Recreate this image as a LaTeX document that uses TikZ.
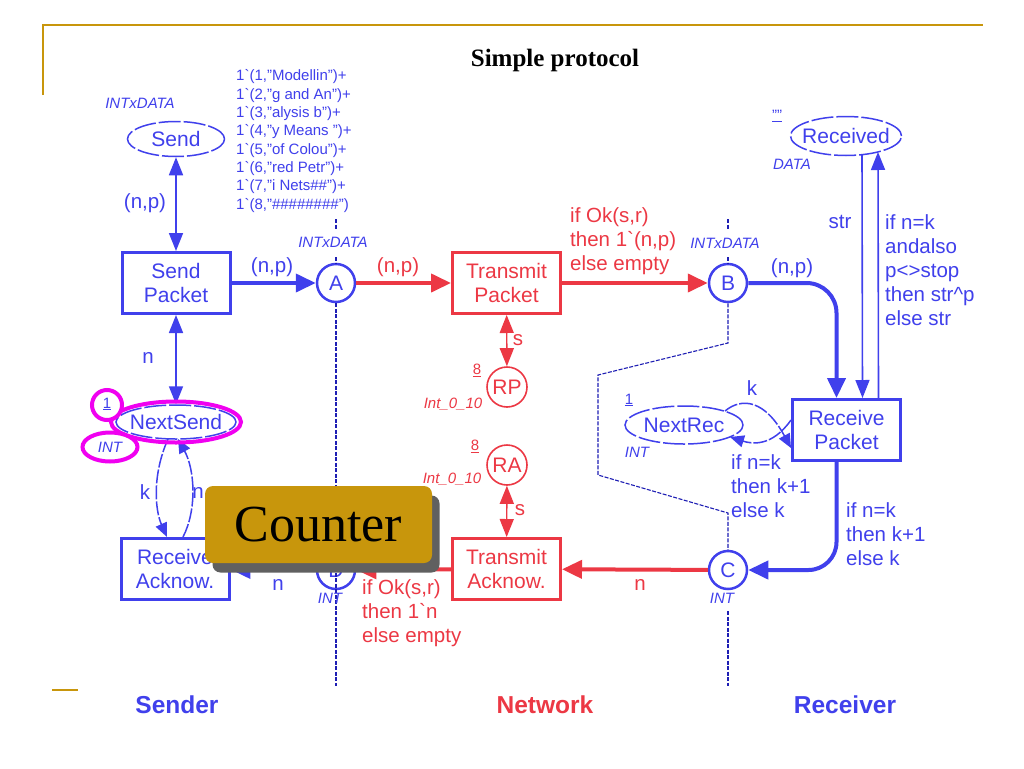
\documentclass[tikz,border=0pt]{standalone}
\usepackage{fontspec}
\setmainfont{Liberation Sans}
\newfontfamily\serifface{Liberation Serif}
\usetikzlibrary{arrows.meta,shapes.geometric,calc}
\definecolor{pnblue}{RGB}{64,64,236}
\definecolor{pnred}{RGB}{236,56,68}
\definecolor{bnd}{RGB}{30,30,180}
\definecolor{gold}{RGB}{200,150,12}
\definecolor{mag}{RGB}{240,0,240}
\definecolor{shade}{RGB}{96,96,96}
\newcommand\pnbig{\fontsize{21}{24.5}\selectfont}
\newcommand\pnlab{\fontsize{20.5}{24}\selectfont}
\newcommand\pntok{\fontsize{15}{18.3}\selectfont}
\newcommand\pntyp{\fontsize{15}{18}\selectfont\itshape}
\begin{document}
\begin{tikzpicture}[x=1pt,y=-1pt,
  bigtip/.tip={Triangle[length=20pt,width=18pt]},
  midtip/.tip={Triangle[length=18pt,width=14pt]},
  smalltip/.tip={Triangle[length=14pt,width=12pt]},
  trans/.style={draw, rectangle, line width=3pt, minimum width=108pt, minimum height=61pt, inner sep=0pt, align=center, font=\pnbig},
  cplace/.style={circle, draw, line width=2.5pt, minimum size=38pt, inner sep=0pt, font=\pnbig},
  rplace/.style={circle, draw=pnred, text=pnred, line width=1.6pt, minimum size=40pt, inner sep=0pt, font=\pnbig},
  eplace/.style={ellipse, draw=pnblue, line width=1.5pt, dash pattern=on 22pt off 3pt, inner sep=0pt},
  lbl/.style={font=\pnlab, inner sep=0pt, align=left},
  typ/.style={font=\pntyp, inner sep=0pt},
  thickblue/.style={pnblue, line width=4pt},
  thickred/.style={pnred, line width=4pt},
  thinblue/.style={pnblue, line width=1.6pt},
  thinred/.style={pnred, line width=1.4pt},
  loopblue/.style={pnblue, line width=1.5pt, dash pattern=on 14pt off 2pt},
  bound/.style={bnd, line width=1.1pt, dash pattern=on 4pt off 1.5pt},
  ring/.style={draw=mag, line width=4pt, inner sep=0pt},
  side/.style={font=\fontsize{24.5}{26}\selectfont\bfseries, inner sep=0pt}
]
\useasboundingbox (0,0) rectangle (1024,768);
\fill[white] (0,0) rectangle (1024,768);

% frame
\draw[gold, line width=2pt] (43,95) -- (43,25) -- (983,25);
\draw[gold, line width=2.5pt] (52,690) -- (78,690);

% title
\node[font=\serifface\bfseries\fontsize{25}{25}\selectfont, inner sep=0pt] (title) at (555,60) {Simple protocol};

% places
\node[eplace, minimum width=97pt, minimum height=35pt, label={[text=pnblue,font=\pnbig]center:Send}] (send) at (176,139) {};
\node[eplace, minimum width=111pt, minimum height=39pt, label={[text=pnblue,font=\pnbig]center:Received}] (received) at (846,136) {};
\node[eplace, minimum width=118pt, minimum height=38pt, label={[text=pnblue,font=\pnbig]center:NextRec}] (nextrec) at (684,425) {};
\node[eplace, minimum width=120pt, minimum height=34pt, label={[text=pnblue,font=\pnbig]center:NextSend}] (nextsend) at (176,422) {};

\node[cplace, draw=pnblue, text=pnblue] (A) at (336,283) {A};
\node[cplace, draw=pnblue, text=pnblue] (B) at (728,283) {B};
\node[cplace, draw=pnblue, text=pnblue] (C) at (728,570) {C};
\node[cplace, draw=pnblue, text=pnblue] (D) at (336,570) {D};
\node[rplace] (rpplace) at (507,387) {RP};
\node[rplace] (raplace) at (507,465) {RA};

% transitions
\node[trans, draw=pnblue, text=pnblue] (sp) at (176,283) {Send\\Packet};
\node[trans, draw=pnred, text=pnred] (tpk) at (506.5,283) {Transmit\\Packet};
\node[trans, draw=pnblue, text=pnblue] (recpkt) at (846.5,430) {Receive\\Packet};
\node[trans, draw=pnred, text=pnred] (tak) at (506.5,569) {Transmit\\Acknow.};
\node[trans, draw=pnblue, text=pnblue] (recack) at (175,569) {Receive\\Acknow.};

% boundaries
\draw[bound] (336,219) -- (336,229);
\draw[bound] (336,257) -- (A.north);
\draw[bound] (A.south) -- (336,686);
\draw[bound] (728,219) -- (728,229);
\draw[bound] (728,257) -- (B.north);
\draw[bound] (B.south) -- (728,343) -- (598,375) -- (598,475) -- (728,513) -- (C.north);
\draw[bound] (728,611) -- (728,686);

% arcs
\draw[thinblue, midtip-midtip] (send) -- (sp);
\draw[thinblue, midtip-midtip] (sp) -- (nextsend);
\draw[thickblue, -bigtip] (sp) -- (A);
\draw[thickred, -bigtip] (A) -- (tpk);
\draw[thickred, -bigtip] (tpk) -- (B);
\draw[thickblue, -bigtip, rounded corners=30pt] (B) -| ([xshift=-10pt]recpkt.north);
\draw[thinblue, -midtip] ($(received.center)+(16,19)$) -- ([xshift=16pt]recpkt.north);
\draw[thinblue, -midtip] ([xshift=32pt]recpkt.north) -- ($(received.center)+(32,16)$);
\draw[thickblue, -bigtip, rounded corners=28pt] ([xshift=-10pt]recpkt.south) |- (C);
\draw[thickred, -bigtip] (C) -- (tak);
\draw[thickred, -bigtip] (tak) -- (D);
\draw[thickblue, -bigtip] (D) -- (recack);
\draw[thinred, midtip-midtip] (tpk) -- (rpplace);
\draw[thinred, midtip-midtip] (raplace) -- (tak);
\draw[loopblue, -smalltip] ($(nextrec.center)+(41,-14)$) .. controls (742,397) and (765,400) .. ([yshift=-18pt]recpkt.west);
\draw[loopblue, -smalltip] ([yshift=10pt]recpkt.west) .. controls (772,447) and (752,444) .. ($(nextrec.center)+(46,12)$);
\draw[loopblue, -smalltip] ($(nextsend.center)+(-8,17)$) .. controls (152,475) and (155,510) .. ([xshift=-8pt]recack.north);
\draw[loopblue, -smalltip] ([xshift=8pt]recack.north) .. controls (197,510) and (195,470) .. ($(nextsend.center)+(2,17)$);

% magenta highlights
\node[ring, ellipse, minimum width=130pt, minimum height=41pt] (nsring) at (nextsend) {};
\node[ring, circle, minimum size=30pt, fill=white] (onering) at (107,405) {};
\node[ring, ellipse, minimum width=55pt, minimum height=29pt, fill=white] (intring) at (110,447) {};

% labels
\node[typ, text=pnblue] (tsend) at (140,103) {INTxDATA};
\node[font=\pntok, text=pnblue, inner sep=0pt, align=left, anchor=west] (tokens) at (236,141) {1\textasciigrave(1,"Modellin")+\\1\textasciigrave(2,"g and An")+\\1\textasciigrave(3,"alysis b")+\\1\textasciigrave(4,"y Means ")+\\1\textasciigrave(5,"of Colou")+\\1\textasciigrave(6,"red Petr")+\\1\textasciigrave(7,"i Nets\#\#")+\\1\textasciigrave(8,"\#\#\#\#\#\#\#\#")};
\node[lbl, text=pnblue] (l1) at (145,203) {(n,p)};
\node[lbl, text=pnblue] (l2) at (148,358) {n};
\node[lbl, text=pnblue] (l3) at (272,267) {(n,p)};
\node[typ, text=pnblue] (tA) at (333,242) {INTxDATA};
\node[lbl, text=pnred] (l4) at (398,267) {(n,p)};
\node[lbl, text=pnred] (l5) at (518,340) {s};
\node[font=\pntok, text=pnred, inner sep=0pt] (m1) at (477,370) {\underline{8}};
\node[typ, text=pnred] (t1) at (453,404) {Int\_0\_10};
\node[font=\pntok, text=pnred, inner sep=0pt] (m2) at (475,446) {\underline{8}};
\node[typ, text=pnred] (t2) at (452,479) {Int\_0\_10};
\node[lbl, text=pnred] (l6) at (520,510) {s};
\node[lbl, text=pnred, anchor=west] (l7) at (570,241) {if Ok(s,r)\\then 1\textasciigrave(n,p)\\else empty};
\node[typ, text=pnblue] (tB) at (725,243) {INTxDATA};
\node[lbl, text=pnblue] (l8) at (792,268) {(n,p)};
\node[font=\pntok, text=pnblue, inner sep=0pt] (m3) at (777,116) {\underline{""}};
\node[typ, text=pnblue] (tR) at (792,164) {DATA};
\node[lbl, text=pnblue] (l9) at (840,222) {str};
\node[lbl, text=pnblue, anchor=west] (l10) at (885,270) {if n=k\\andalso\\p<>stop\\then str\textasciicircum p\\else str};
\node[font=\pntok, text=pnblue, inner sep=0pt] (m4) at (629,400) {\underline{1}};
\node[typ, text=pnblue] (tNR) at (637,452) {INT};
\node[lbl, text=pnblue] (l11) at (752,388) {k};
\node[lbl, text=pnblue, anchor=west] (l12) at (731,486) {if n=k\\then k+1\\else k};
\node[lbl, text=pnblue, anchor=west] (l13) at (846,534) {if n=k\\then k+1\\else k};
\node[typ, text=pnblue] (tC) at (722,598) {INT};
\node[lbl, text=pnred] (l14) at (640,585) {n};
\node[lbl, text=pnred, anchor=west] (l15) at (362,613) {if Ok(s,r)\\then 1\textasciigrave n\\else empty};
\node[typ, text=pnblue] (tD) at (330,598) {INT};
\node[lbl, text=pnblue] (l16) at (278,585) {n};
\node[lbl, text=pnblue] (l17) at (145,492) {k};
\node[lbl, text=pnblue] (l18) at (198,493) {n};
\node[font=\pntok, text=pnblue, inner sep=0pt] (m5) at (107,404) {\underline{1}};
\node[typ, text=pnblue] (tNS) at (110,447) {INT};

% side titles
\node[side, text=pnblue] (sender) at (177,705) {Sender};
\node[side, text=pnred] (network) at (545,705) {Network};
\node[side, text=pnblue] (receiver) at (845,705) {Receiver};

% Counter callout
\node[fill=shade, rounded corners=8pt, minimum width=227pt, minimum height=77pt, inner sep=0pt] (countershadow) at (326,534) {};
\node[fill=gold, rounded corners=8pt, minimum width=227pt, minimum height=77pt, inner sep=0pt, font=\serifface\fontsize{52}{52}\selectfont] (counter) at (318.5,524.5) {Counter};
\end{tikzpicture}
\end{document}
